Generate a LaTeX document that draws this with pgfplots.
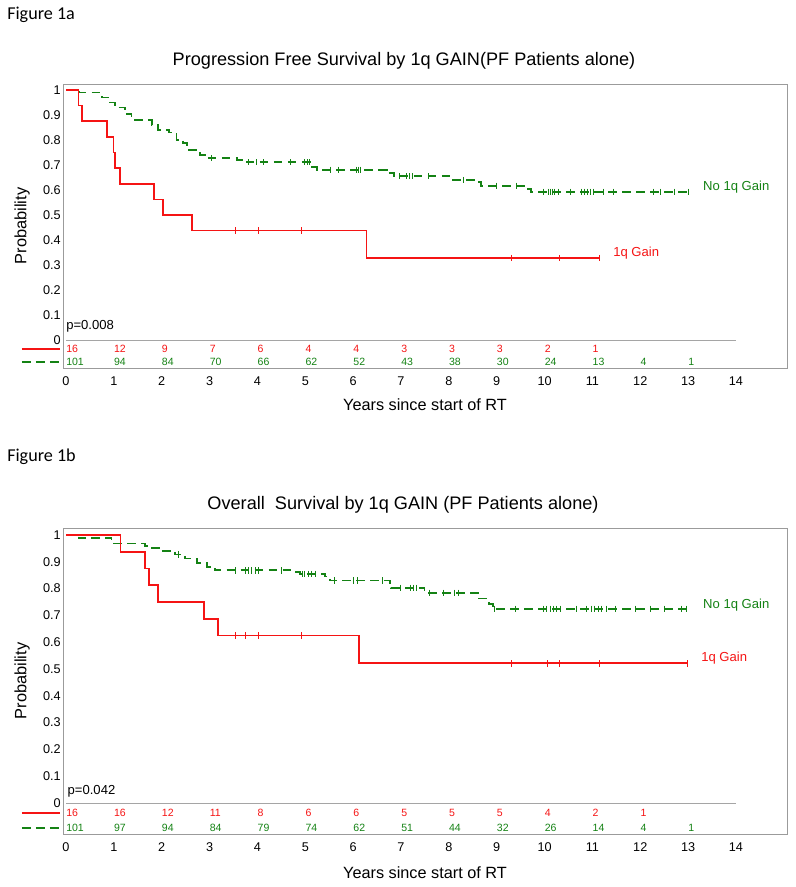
\documentclass[border=0pt]{standalone}
\usepackage{pgfplots}
\pgfplotsset{compat=1.18}
\usepackage{fontspec}
\setmainfont{Liberation Sans}
\newfontfamily\calibri{Carlito}
\definecolor{kmred}{RGB}{245,20,20}
\definecolor{kmgreen}{RGB}{20,130,20}
\definecolor{framegray}{RGB}{155,155,155}
\definecolor{zerogray}{RGB}{165,165,165}

\pgfplotsset{
  km/.style={
    scale only axis, width=543pt,
    xmin=-0.0627, xmax=15.066,
    xtick={0,1,2,3,4,5,6,7,8,9,10,11,12,13,14},
    ytick={0,0.1,0.2,0.3,0.4,0.5,0.6,0.7,0.8,0.9,1},
    major tick length=0pt,
    axis line style={draw=framegray, line width=0.6pt},
    tick label style={font=\fontsize{9.5}{11}\selectfont},
    /pgf/number format/assume math mode=true,
    xticklabel style={anchor=center, yshift=-9.75pt},
    yticklabel style={inner xsep=1.5pt},
    clip=false,
    ylabel style={at={(axis description cs:-0.0566,0.5)}, anchor=center, rotate=0, font=\fontsize{12.3}{14}\selectfont},
    title style={anchor=center, yshift=-8pt, font=\fontsize{13.6}{16}\selectfont},
    xlabel style={anchor=center, font=\fontsize{12.2}{14}\selectfont},
  },
  censred/.style={only marks, mark=|, mark size=2.4pt, kmred, mark options={line width=0.6pt}},
  censgreen/.style={only marks, mark=|, mark size=2.4pt, kmgreen, mark options={line width=0.5pt}},
  riskred/.style={draw=none, nodes near coords, point meta=explicit symbolic,
    nodes near coords style={anchor=west, inner sep=0pt, font=\fontsize{7.9}{9}\selectfont, text=kmred}},
  riskgreen/.style={draw=none, nodes near coords, point meta=explicit symbolic,
    nodes near coords style={anchor=west, inner sep=0pt, font=\fontsize{7.9}{9}\selectfont, text=kmgreen}},
  redline/.style={kmred, line width=1.3pt, const plot},
  greenline/.style={kmgreen, line width=1.4pt, const plot, dash pattern=on 6.5pt off 4pt},
}

\begin{document}
\begin{tikzpicture}
\path[use as bounding box] (0,0) rectangle (596.25pt,-665.25pt);

\node[anchor=base west, inner sep=0pt, font=\calibri\fontsize{13.6}{16}\selectfont] at (5.25pt,-14.5pt) {Figure 1a};
\node[anchor=base west, inner sep=0pt, font=\calibri\fontsize{13.6}{16}\selectfont] at (5.25pt,-345.75pt) {Figure 1b};

% ---------------- Figure 1a ----------------
\begin{axis}[km, at={(47.25pt,-63pt)}, anchor=north west, height=213pt,
  ymin=-0.112, ymax=1.024,
  title={Progression Free Survival by 1q GAIN(PF Patients alone)},
  title style={at={(axis description cs:0.471,1.0915)}},
  xlabel={Years since start of RT},
  xlabel style={at={(axis description cs:0.5,-0.130)}},
  ylabel={Probability},
]
\addplot[zerogray, line width=0.6pt] coordinates {(0,0) (14,0)};
% No 1q gain
\addplot[greenline] coordinates {
(0,1) (0.27,0.99) (0.75,0.97) (0.92,0.95) (1.02,0.93) (1.23,0.905) (1.37,0.88)
(1.79,0.86) (1.93,0.84) (2.15,0.83) (2.31,0.80) (2.45,0.787) (2.52,0.76) (2.8,0.74)
(2.94,0.727) (3.57,0.72) (3.78,0.711) (5.1,0.693) (5.24,0.681) (6.7,0.667) (6.85,0.655)
(8.05,0.64) (8.55,0.633) (8.68,0.617) (9.58,0.605) (9.72,0.593) (13.07,0.593)};
\addplot[censgreen] coordinates {
(3.04,0.727) (3.80,0.711) (3.98,0.711) (4.12,0.711) (4.68,0.711) (4.99,0.711) (5.04,0.711) (5.08,0.711)
(5.52,0.681) (5.69,0.681) (6.06,0.681) (6.11,0.681) (6.14,0.681)
(6.96,0.655) (7.12,0.655) (7.17,0.655) (7.24,0.655) (7.57,0.655) (8.30,0.64)
(9.00,0.617) (9.40,0.617) (9.97,0.593) (10.07,0.593) (10.12,0.593) (10.17,0.593) (10.21,0.593)
(10.29,0.593) (10.53,0.593) (10.77,0.593) (10.84,0.593) (10.90,0.593) (10.96,0.593) (11.02,0.593)
(11.23,0.593) (11.44,0.593) (12.27,0.593) (12.42,0.593) (12.72,0.593) (13.0,0.593)};
% 1q gain
\addplot[redline] coordinates {
(0,1) (0.26,0.9375) (0.33,0.875) (0.85,0.8125) (0.99,0.75) (1.02,0.6875) (1.13,0.625)
(1.84,0.5625) (2.03,0.5) (2.64,0.4375) (6.28,0.328) (11.14,0.328)};
\addplot[censred] coordinates {
(3.53,0.4375) (4.01,0.4375) (4.91,0.4375) (9.30,0.328) (10.31,0.328) (11.14,0.328)};
% numbers at risk
\addplot[riskred] table[meta=n] {
x y n
0 -0.036 16
1 -0.036 12
2 -0.036 9
3 -0.036 7
4 -0.036 6
5 -0.036 4
6 -0.036 4
7 -0.036 3
8 -0.036 3
9 -0.036 3
10 -0.036 2
11 -0.036 1
};
\addplot[riskgreen] table[meta=n] {
x y n
0 -0.088 101
1 -0.088 94
2 -0.088 84
3 -0.088 70
4 -0.088 66
5 -0.088 62
6 -0.088 52
7 -0.088 43
8 -0.088 38
9 -0.088 30
10 -0.088 24
11 -0.088 13
12 -0.088 4
13 -0.088 1
};
\draw[kmred, line width=1.3pt] (axis cs:-0.92,-0.036) -- (axis cs:-0.125,-0.036);
\draw[kmgreen, line width=1.4pt, dash pattern=on 6.5pt off 4pt] (axis cs:-0.92,-0.088) -- (axis cs:-0.125,-0.088);
\node[anchor=west, inner sep=0pt, font=\fontsize{9.8}{11}\selectfont] at (axis cs:0,0.053) {p=0.008};
\node[anchor=west, inner sep=0pt, font=\fontsize{9.8}{11}\selectfont, text=kmgreen] at (axis cs:13.31,0.612) {No 1q Gain};
\node[anchor=west, inner sep=0pt, font=\fontsize{9.8}{11}\selectfont, text=kmred] at (axis cs:11.43,0.348) {1q Gain};
\end{axis}

% ---------------- Figure 1b ----------------
\begin{axis}[km, at={(47.25pt,-396pt)}, anchor=north west, height=229.5pt,
  ymin=-0.1157, ymax=1.026,
  title={Overall\ \ Survival by 1q GAIN (PF Patients alone)},
  title style={at={(axis description cs:0.4696,1.086)}},
  xlabel={Years since start of RT},
  xlabel style={at={(axis description cs:0.5,-0.128)}},
  ylabel={Probability},
]
\addplot[zerogray, line width=0.6pt] coordinates {(0,0) (14,0)};
\addplot[greenline] coordinates {
(0,1) (0.26,0.99) (0.95,0.968) (1.65,0.96) (1.72,0.952) (2.0,0.94) (2.28,0.927)
(2.49,0.912) (2.73,0.896) (2.94,0.881) (3.11,0.868) (4.71,0.862) (4.89,0.855)
(5.41,0.845) (5.52,0.83) (6.77,0.81) (6.80,0.803) (7.49,0.784) (8.60,0.763)
(8.84,0.744) (8.92,0.724) (12.97,0.724)};
\addplot[censgreen] coordinates {
(2.35,0.927) (3.53,0.868) (3.74,0.868) (3.81,0.868) (3.88,0.868) (3.95,0.868) (4.01,0.868) (4.50,0.868)
(4.93,0.855) (4.99,0.855) (5.06,0.855) (5.13,0.855) (5.20,0.855)
(5.60,0.83) (6.00,0.83) (6.08,0.83) (6.62,0.83)
(6.98,0.803) (7.19,0.803) (7.26,0.803) (7.33,0.803)
(7.59,0.784) (7.88,0.784) (8.12,0.784) (8.19,0.784)
(8.96,0.724) (9.38,0.724) (9.97,0.724) (10.04,0.724) (10.11,0.724) (10.18,0.724) (10.25,0.724) (10.32,0.724)
(10.67,0.724) (10.88,0.724) (10.98,0.724) (11.05,0.724) (11.12,0.724) (11.19,0.724) (11.29,0.724)
(11.47,0.724) (11.90,0.724) (12.20,0.724) (12.50,0.724) (12.86,0.724) (12.97,0.724)};
\addplot[redline] coordinates {
(0,1) (1.14,0.9375) (1.65,0.875) (1.73,0.8125) (1.92,0.75) (2.88,0.6875) (3.18,0.625)
(6.12,0.521) (12.98,0.521)};
\addplot[censred] coordinates {
(3.53,0.625) (3.74,0.625) (4.03,0.625) (4.92,0.625)
(9.30,0.521) (10.06,0.521) (10.30,0.521) (11.14,0.521) (12.98,0.521)};
\addplot[riskred] table[meta=n] {
x y n
0 -0.037 16
1 -0.037 16
2 -0.037 12
3 -0.037 11
4 -0.037 8
5 -0.037 6
6 -0.037 6
7 -0.037 5
8 -0.037 5
9 -0.037 5
10 -0.037 4
11 -0.037 2
12 -0.037 1
};
\addplot[riskgreen] table[meta=n] {
x y n
0 -0.093 101
1 -0.093 97
2 -0.093 94
3 -0.093 84
4 -0.093 79
5 -0.093 74
6 -0.093 62
7 -0.093 51
8 -0.093 44
9 -0.093 32
10 -0.093 26
11 -0.093 14
12 -0.093 4
13 -0.093 1
};
\draw[kmred, line width=1.3pt] (axis cs:-0.92,-0.037) -- (axis cs:-0.125,-0.037);
\draw[kmgreen, line width=1.4pt, dash pattern=on 6.5pt off 4pt] (axis cs:-0.92,-0.093) -- (axis cs:-0.125,-0.093);
\node[anchor=west, inner sep=0pt, font=\fontsize{9.8}{11}\selectfont] at (axis cs:0.03,0.042) {p=0.042};
\node[anchor=west, inner sep=0pt, font=\fontsize{9.8}{11}\selectfont, text=kmgreen] at (axis cs:13.31,0.739) {No 1q Gain};
\node[anchor=west, inner sep=0pt, font=\fontsize{9.8}{11}\selectfont, text=kmred] at (axis cs:13.27,0.541) {1q Gain};
\end{axis}
\end{tikzpicture}
\end{document}
